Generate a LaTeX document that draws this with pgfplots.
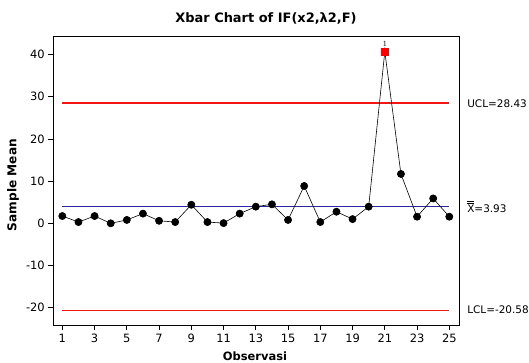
\documentclass[border=0pt]{standalone}
\usepackage{fontspec}
\setmainfont{DejaVu Sans}
\newfontfamily\seriffont{Liberation Serif}
\usepackage{pgfplots}
\pgfplotsset{compat=1.18}
\definecolor{ctrred}{RGB}{245,20,20}
\definecolor{ctrblue}{RGB}{40,40,160}
\begin{document}
\begin{tikzpicture}
\useasboundingbox (-53.3bp,-38bp) rectangle (475.7bp,325bp);
\begin{axis}[
 at={(0,0)}, anchor=south west, scale only axis, width=406bp, height=289bp,
 xmin=0.44, xmax=25.62, ymin=-24.1, ymax=44.4,
 xtick={1,3,...,25}, ytick={-20,-10,0,10,20,30,40},
 tick align=outside, xtick pos=bottom, ytick pos=left, major tick length=5bp,
 tick style={black, line width=0.7pt},
 tick label style={font=\fontsize{11.5}{13}\selectfont},
 xticklabel style={yshift=-0.5bp},
 /pgf/number format/assume math mode=true,
 axis line style={line width=0.9pt},
 clip=false,
]
\addplot[color=ctrblue, line width=1.1bp, no marks] coordinates {(1,3.93) (25,3.93)};
\addplot[color=ctrred, line width=1.2bp, no marks] coordinates {(1,-20.58) (25,-20.58)};
\addplot[color=ctrred, line width=1.3bp, no marks] coordinates {(1,28.5) (25,28.5)};
\addplot[black, line width=0.6pt, mark=*, mark size=3.6bp, mark options={fill=black}] coordinates {
(1,1.73) (2,0.3) (3,1.73) (4,0.0) (5,0.8) (6,2.3) (7,0.6) (8,0.3) (9,4.4) (10,0.3)
(11,0.05) (12,2.3) (13,3.95) (14,4.5) (15,0.8) (16,8.85) (17,0.3) (18,2.75) (19,1.0) (20,3.95)
(21,40.7) (22,11.7) (23,1.57) (24,5.9) (25,1.57)};
\addplot[only marks, mark=square*, red, mark size=3.6bp] coordinates {(21,40.7)}
  node[above, black, yshift=1.5bp, font=\seriffont\fontsize{8}{9}\selectfont] {1};
\node[anchor=west, font=\fontsize{10.5}{12}\selectfont] at (axis cs:25.62,28.43) [xshift=4.5bp] {UCL=28.43};
\node[anchor=west, font=\fontsize{10.5}{12}\selectfont] at (axis cs:25.62,3.93) [xshift=4.5bp] {$\overline{\overline{\mbox{X}}}$=3.93};
\node[anchor=west, font=\fontsize{10.5}{12}\selectfont] at (axis cs:25.62,-20.58) [xshift=4.5bp] {LCL=-20.58};
\end{axis}
\node[font=\bfseries\fontsize{13}{15}\selectfont] at (212.7bp,306.5bp) {Xbar Chart of IF(x2,λ2,F)};
\node[font=\bfseries\fontsize{12.2}{14}\selectfont, rotate=90] at (-40.3bp,140bp) {Sample Mean};
\node[font=\bfseries\fontsize{11.5}{13}\selectfont] at (201.7bp,-31.7bp) {Observasi};
\end{tikzpicture}
\end{document}
